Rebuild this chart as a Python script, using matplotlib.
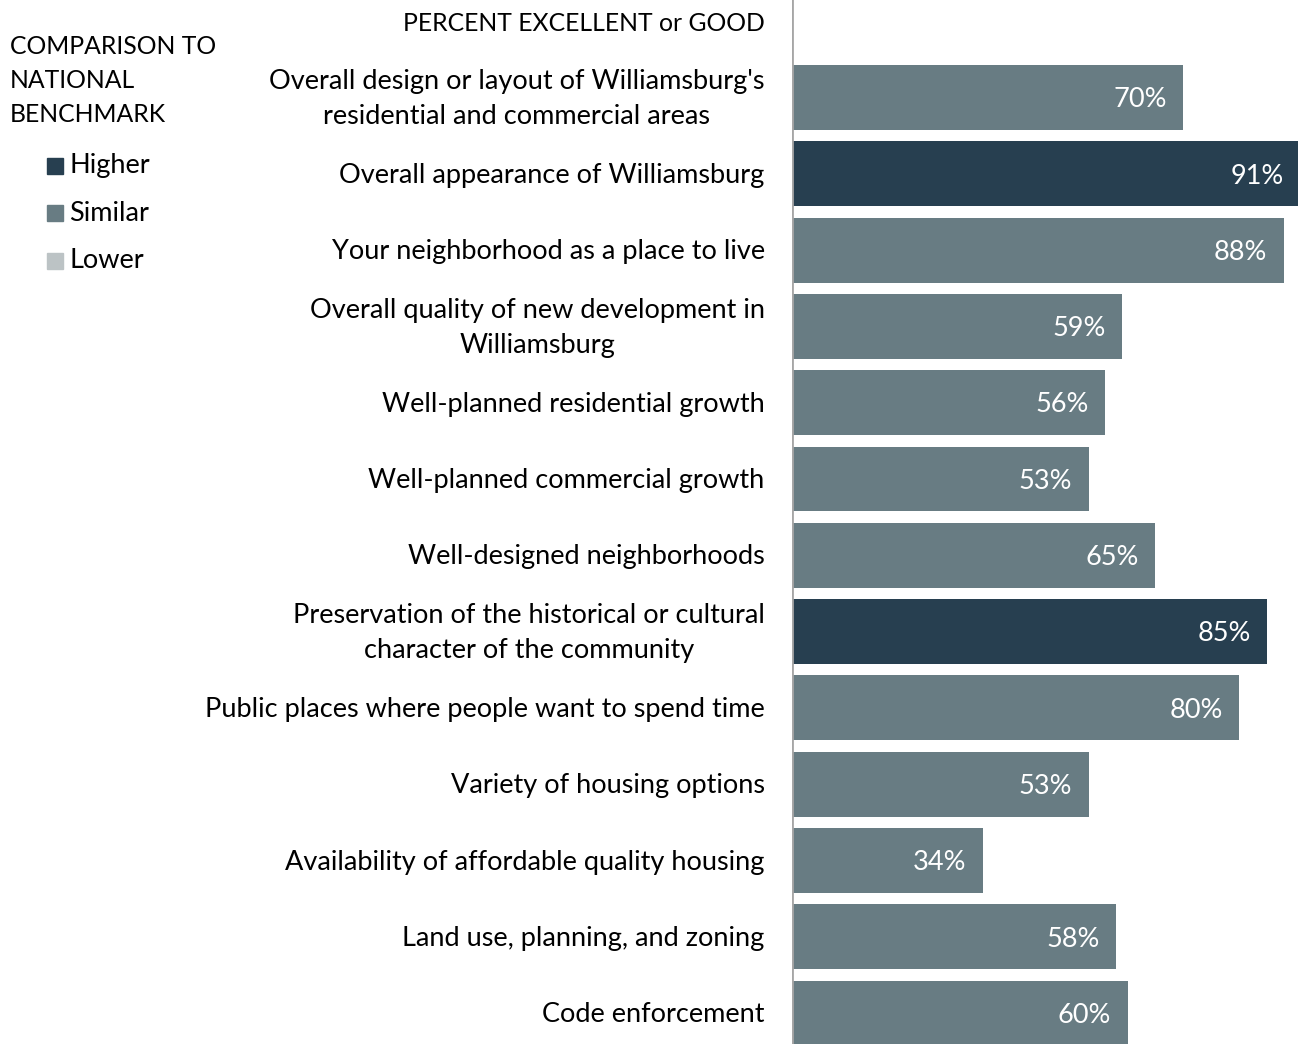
import matplotlib
matplotlib.use("Agg")
import matplotlib.pyplot as plt
from matplotlib.patches import Rectangle

plt.rcParams["font.family"] = ["Lato", "DejaVu Sans"]

categories = [
    "Overall design or layout of Williamsburg's\nresidential and commercial areas",
    "Overall appearance of Williamsburg",
    "Your neighborhood as a place to live",
    "Overall quality of new development in\nWilliamsburg",
    "Well-planned residential growth",
    "Well-planned commercial growth",
    "Well-designed neighborhoods",
    "Preservation of the historical or cultural\ncharacter of the community",
    "Public places where people want to spend time",
    "Variety of housing options",
    "Availability of affordable quality housing",
    "Land use, planning, and zoning",
    "Code enforcement",
]
values = [70, 91, 88, 59, 56, 53, 65, 85, 80, 53, 34, 58, 60]
benchmark = ["Similar", "Higher", "Similar", "Similar", "Similar", "Similar", "Similar",
             "Higher", "Similar", "Similar", "Similar", "Similar", "Similar"]
legend_items = ["Higher", "Similar", "Lower"]

colors = {"Higher": "#273F50", "Similar": "#687C83", "Lower": "#BCC3C5"}
FS = 19.5
FS_CAPS = 17.8

fig = plt.figure(figsize=(12.98, 10.44), dpi=100)
ax = fig.add_axes([792 / 1298, 0, 1 - 792 / 1298, 1])

ypos = list(range(len(values)))
ax.barh(ypos, values, height=0.85, color=[colors[b] for b in benchmark], left=0.15)
ax.set_xlim(0, 90.7)
ax.set_ylim(12.405, -1.278)
ax.axis("off")
ax.axvline(0, color="#A6A6A6", linewidth=2)

for y, v, label in zip(ypos, values, categories):
    ax.text(v - 2.8, y + 0.03, f"{v}%", color="white", ha="right", va="center", fontsize=FS)
    ax.text(-4.9, y + 0.02, label, ha="right", va="center", fontsize=FS, color="black",
            multialignment="center", linespacing=1.5)

ax.text(-4.9, -0.97, "PERCENT EXCELLENT or GOOD", ha="right", va="center", fontsize=FS_CAPS)

# legend
fig.text(10 / 1298, 1 - 47 / 1044, "COMPARISON TO", ha="left", va="center", fontsize=FS_CAPS)
fig.text(10 / 1298, 1 - 81 / 1044, "NATIONAL", ha="left", va="center", fontsize=FS_CAPS)
fig.text(10 / 1298, 1 - 115 / 1044, "BENCHMARK", ha="left", va="center", fontsize=FS_CAPS)
legend_y = [166, 213, 261]
for name, yy in zip(legend_items, legend_y):
    fig.patches.append(Rectangle((47 / 1298, 1 - (yy + 8) / 1044), 16 / 1298, 16 / 1044,
                                 transform=fig.transFigure, color=colors[name]))
    fig.text(69 / 1298, 1 - yy / 1044, name, ha="left", va="center", fontsize=FS)

fig.savefig("out.png", dpi=100)
